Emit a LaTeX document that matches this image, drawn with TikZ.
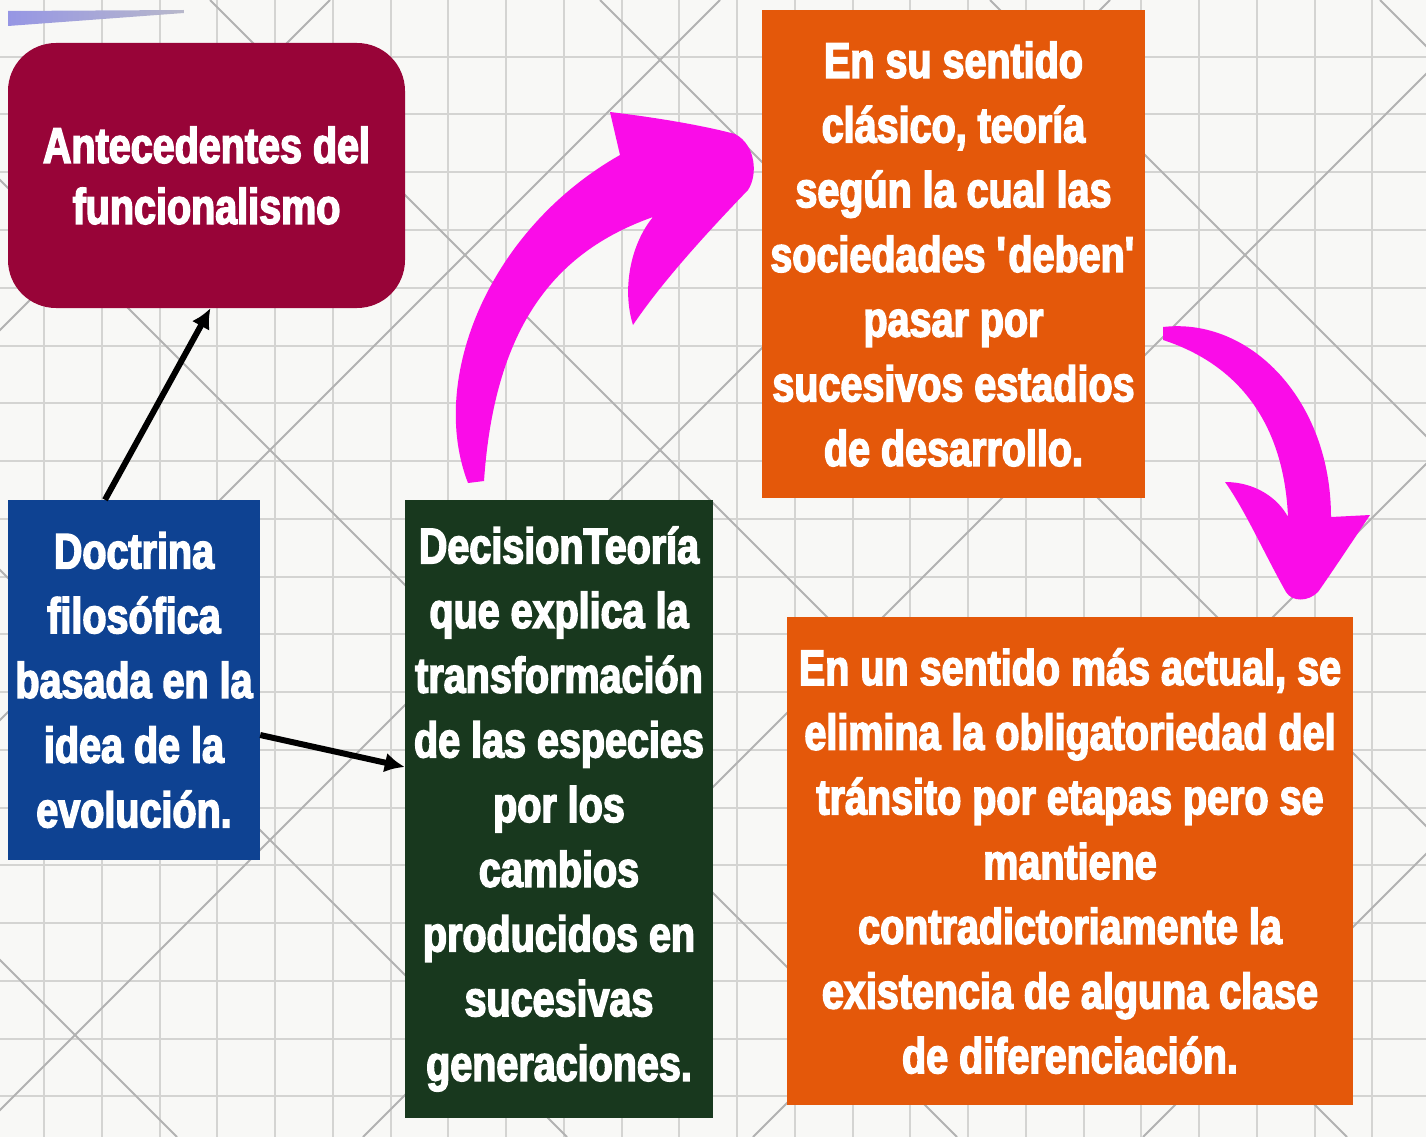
\documentclass[tikz,border=0pt]{standalone}
\usepackage{fontspec}
\usetikzlibrary{arrows.meta}
\newfontfamily\condfont[FakeStretch=0.79,FakeBold=3]{Liberation Sans}
\definecolor{bgc}{RGB}{248,248,246}
\definecolor{gridc}{RGB}{212,212,210}
\definecolor{diagc}{RGB}{178,178,178}
\definecolor{maroonc}{RGB}{152,4,56}
\definecolor{bluec}{RGB}{14,66,146}
\definecolor{greenc}{RGB}{24,56,30}
\definecolor{orangec}{RGB}{228,88,10}
\definecolor{magc}{RGB}{250,12,232}
\definecolor{lavc}{RGB}{150,150,228}
\tikzset{
  gridl/.style={gridc, line width=2pt},
  diagl/.style={diagc, line width=2pt},
  boxtxt/.style={rectangle, inner sep=0pt, text=white, align=center,
    font=\condfont\bfseries\fontsize{50}{64.7}\selectfont},
  conn/.style={black, line width=6pt, -{Latex[length=20pt,width=20pt]}},
  curvearrow/.style={fill=magc}
}
\begin{document}
\begin{tikzpicture}[x=1pt,y=-1pt]
\useasboundingbox (0,0) rectangle (1426,1137);
\fill[bgc] (0,0) rectangle (1426,1137);
\begin{scope}
\clip (0,0) rectangle (1426,1137);
\foreach \k in {0,...,23} \draw[gridl] ({44+57.75*\k},0) -- ({44+57.75*\k},1137);
\foreach \k in {1,...,19} \draw[gridl] (0,{-1+57.75*\k}) -- (1426,{-1+57.75*\k});
\foreach \k in {-1,...,6} \draw[diagl] ({330+390*\k},0) -- ({330+390*\k-1137},1137);
\foreach \k in {-3,...,3} \draw[diagl] ({210+390*\k},0) -- ({210+390*\k+1137},1137);
\end{scope}
% top lavender bar
\shade[left color=lavc, right color=lavc!40!gray!60] (8,11) -- (184,10) -- (184,13) -- (8,26) -- cycle;

% boxes
\node[boxtxt, fill=maroonc, rounded corners=48pt, minimum width=397pt, minimum height=265pt,
  font=\condfont\bfseries\fontsize{50}{61}\selectfont] (ante) at (206.5,175.5)
  {Antecedentes del\\funcionalismo};
\node[boxtxt, fill=bluec, minimum width=252pt, minimum height=360pt] (doct) at (134,680)
  {Doctrina\\filosófica\\basada en la\\idea de la\\evolución.};
\node[boxtxt, fill=greenc, minimum width=308pt, minimum height=618pt] (deci) at (559,809)
  {DecisionTeoría\\que explica la\\transformación\\de las especies\\por los\\cambios\\producidos en\\sucesivas\\generaciones.};
\node[boxtxt, fill=orangec, minimum width=383pt, minimum height=487pt] (clas) at (953.5,254)
  {En su sentido\\clásico, teoría\\según la cual las\\sociedades \textquotesingle deben\textquotesingle\\pasar por\\sucesivos estadios\\de desarrollo.};
\node[boxtxt, fill=orangec, minimum width=566pt, minimum height=488pt] (actu) at (1070,861)
  {En un sentido más actual, se\\elimina la obligatoriedad del\\tránsito por etapas pero se\\mantiene\\contradictoriamente la\\existencia de alguna clase\\de diferenciación.};

% black connectors
\draw[conn] ([xshift=-29pt]doct.north) -- ([xshift=4pt]ante.south);
\draw[conn] ([yshift=-55pt]doct.east) -- ([yshift=42pt]deci.west);

% magenta curved arrows
\fill[curvearrow] (468,483) .. controls (428,380) and (488,230) .. (620,155)
  -- (610,112) .. controls (660,118) and (705,126) .. (735,134)
  .. controls (756,145) and (758,175) .. (748,190)
  .. controls (700,240) and (660,285) .. (633,325)
  .. controls (622,290) and (630,245) .. (653,217)
  .. controls (560,250) and (495,320) .. (484,481) -- cycle;
\fill[curvearrow] (1163,327) .. controls (1250,317) and (1331,400) .. (1331,517)
  -- (1370,515) .. controls (1350,545) and (1330,575) .. (1318,592)
  .. controls (1308,602) and (1292,602) .. (1286,592)
  .. controls (1265,555) and (1245,510) .. (1225,482)
  .. controls (1255,482) and (1278,498) .. (1288,517)
  .. controls (1284,425) and (1240,365) .. (1163,340) -- cycle;
\end{tikzpicture}
\end{document}
